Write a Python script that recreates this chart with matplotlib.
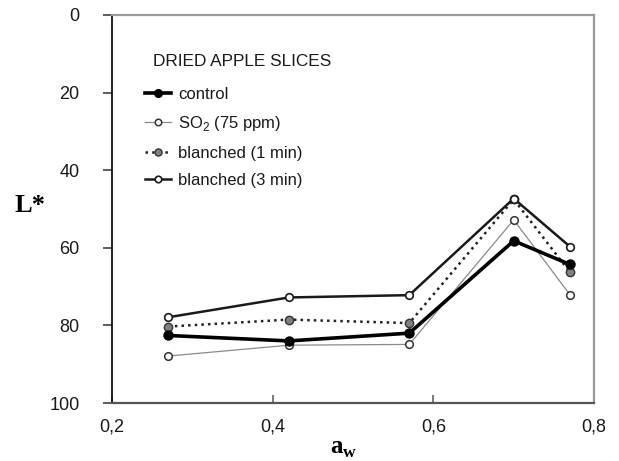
import numpy as np
import matplotlib
matplotlib.use('Agg')
import matplotlib.pyplot as plt

plt.rcParams['font.family'] = ['Liberation Sans', 'DejaVu Sans']
plt.rcParams['mathtext.fontset'] = 'custom'
plt.rcParams['mathtext.rm'] = 'Liberation Sans'
plt.rcParams['mathtext.bf'] = 'Liberation Serif:bold'

# water activity
aw = [0.27, 0.42, 0.57, 0.70, 0.77]

# L* values
control = [82.6, 84.0, 82.0, 58.2, 64.3]
so2 = [87.9, 85.1, 84.9, 52.8, 72.1]
blanched_1 = [80.3, 78.5, 79.4, 47.5, 66.3]
blanched_3 = [77.9, 72.8, 72.2, 47.3, 59.7]

labels = ['control', 'SO$_2$ (75 ppm)', 'blanched (1 min)', 'blanched (3 min)']
xticks = [0.2, 0.4, 0.6, 0.8]
xticklabels = ['0,2', '0,4', '0,6', '0,8']
yticks = [0, 20, 40, 60, 80, 100]

fig = plt.figure(figsize=(6.19, 4.61), dpi=100)
ax = fig.add_axes([0.181, 0.1258, 0.7787, 0.8417])

ax.plot(aw, so2, '-', color='#8a8a8a', lw=0.9, marker='o', ms=5.5,
        mfc='white', mec='#333333', mew=1.1, label=labels[1], zorder=2)
ax.plot(aw, blanched_1, ':', color='#222222', lw=1.8, marker='o', ms=6,
        mfc='#808080', mec='#333333', mew=1.0, label=labels[2], zorder=3)
ax.plot(aw, blanched_3, '-', color='#1a1a1a', lw=1.8, marker='o', ms=5.5,
        mfc='white', mec='#1a1a1a', mew=1.2, label=labels[3], zorder=4)
ax.plot(aw, control, '-', color='black', lw=2.6, marker='o', ms=6.5,
        mfc='black', mec='black', label=labels[0], zorder=5)

ax.set_xlim(0.2, 0.8)
ax.set_ylim(100, 0)
ax.set_xticks(xticks)
ax.set_xticklabels(xticklabels)
ax.set_yticks(yticks)

ax.tick_params(axis='y', direction='out', length=6.5, width=1.1, color='#333333',
               pad=17, labelsize=13, labelcolor='#1a1a1a')
ax.tick_params(axis='x', direction='in', length=6, width=1.1, color='#555555',
               pad=11, labelsize=13, labelcolor='#1a1a1a')

ax.spines['left'].set_color('#111111')
ax.spines['left'].set_linewidth(1.3)
ax.spines['bottom'].set_color('#555555')
ax.spines['bottom'].set_linewidth(1.6)
for s in ['top', 'right']:
    ax.spines[s].set_color('#9a9a9a')
    ax.spines[s].set_linewidth(1.6)

ax.set_ylabel('L*', family='Liberation Serif', fontweight='bold', fontsize=19,
              rotation=0, labelpad=0)
ax.yaxis.set_label_coords(-0.17, 0.48)
ax.set_xlabel(r'$\mathbf{a}_\mathbf{w}$', fontsize=18)
ax.xaxis.set_label_coords(0.48, -0.085)

ax.text(0.085, 0.88, 'DRIED APPLE SLICES', transform=ax.transAxes,
        fontsize=12.4, ha='left', va='center', color='#1a1a1a')

handles, labs = ax.get_legend_handles_labels()
order = [3, 0, 1, 2]
leg = ax.legend([handles[i] for i in order], [labs[i] for i in order],
                loc='upper left', bbox_to_anchor=(0.068, 0.815), frameon=False,
                fontsize=12, handlelength=1.6, handletextpad=0.4, labelspacing=0.75,
                borderpad=0, borderaxespad=0, labelcolor='#1a1a1a', markerscale=0.85)

fig.savefig('out.png', dpi=100)
